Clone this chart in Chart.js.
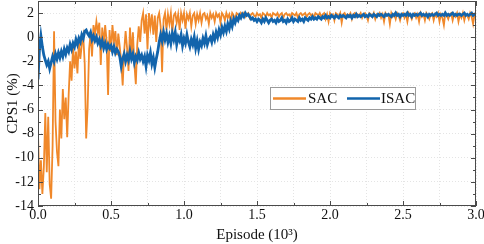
<!DOCTYPE html>
<html>
<head>
<meta charset="utf-8">
<script src="https://cdn.jsdelivr.net/npm/chart.js@4.4.0/dist/chart.umd.min.js"></script>
<style>
  html, body { margin: 0; padding: 0; background: #fff; }
  #wrap { width: 484px; height: 244px; position: relative; }
</style>
</head>
<body>
<div id="wrap"><canvas id="c" width="484" height="244"></canvas></div>
<script>
// Episode sampling (in 10^3 episodes)
const EPISODE_STEP = 0.01;

const seriesNames = ['SAC', 'ISAC'];

const sacValues = [
  -8.0, -12.6, -10.2, -13.0, -10.8, -6.3, -11.2, -6.6, -12.2, -13.4,
  -9.0, 0.5, -7.0, -9.5, -10.7, -6.0, -8.4, -4.3, -6.8, -5.0,
  -8.3, -4.8, -2.0, -3.6, -0.8, -2.6, -1.2, -3.0, -0.4, -1.8,
  -0.6, 0.1, -2.2, -8.4, -5.8, -1.0, 0.3, -1.6, 1.0, 0.2,
  1.3, 0.4, 1.2, -2.3, 0.8, -0.6, 1.0, -0.3, -4.8, 0.6,
  -1.2, 1.0, -0.4, 0.5, -1.5, 0.3, -0.8, -2.0, -4.0, -1.2,
  0.5, -0.9, -2.8, 0.8, -1.5, 0.4, -2.2, -3.9, -0.6, 0.9,
  -0.4, 1.4, 2.0, 0.3, 1.9, -1.0, 2.0, 0.8, 1.9, 0.2,
  1.8, -0.4, 1.6, 2.0, 0.9, -2.9, 1.5, 2.0, 0.6, 1.9,
  1.1, 2.0, 0.4, 1.8, 2.0, 1.2, 1.9, 0.6, 2.0, 1.4,
  2.0, 0.7, 1.9, 1.5, 2.0, 0.9, 1.8, 2.0, 1.1, 1.9,
  1.4, 2.0, 1.2, 1.9, 2.0, 1.5, 1.8, 1.1, 2.0, 1.6,
  1.9, 1.3, 2.0, 1.7, 1.9, 1.2, 2.0, 1.8, 1.4, 2.0,
  1.6, 1.9, 1.3, 2.0, 1.8, 1.5, 2.0, 1.9, 1.6, 2.0,
  1.8, 2.0, 1.7, 1.9, 2.0, 1.6, 1.9, 2.0, 1.8, 1.7,
  2.0, 1.8, 1.9, 1.6, 2.0, 1.9, 1.7, 2.0, 1.8, 1.9,
  1.6, 2.0, 1.9, 1.8, 2.0, 1.7, 1.9, 2.0, 1.6, 1.9,
  2.0, 1.8, 1.9, 1.7, 2.0, 1.9, 1.8, 2.0, 1.6, 1.9,
  2.0, 1.8, 1.9, 2.0, 1.7, 1.9, 2.0, 1.8, 1.9, 1.6,
  2.0, 1.9, 1.8, 2.0, 1.7, 1.9, 2.0, 1.5, 1.9, 1.3,
  2.0, 1.8, 1.9, 1.4, 2.0, 1.9, 1.7, 2.0, 1.2, 1.9,
  2.0, 1.7, 1.9, 1.8, 2.0, 1.5, 1.9, 2.0, 1.7, 1.9,
  1.8, 2.0, 1.6, 1.9, 2.0, 1.8, 1.4, 2.0, 1.9, 1.7,
  2.0, 1.5, 1.9, 1.8, 2.0, 1.6, 1.9, 1.3, 2.0, 1.8,
  1.9, 1.1, 2.0, 1.7, 1.9, 1.5, 2.0, 1.8, 1.4, 1.9,
  2.0, 1.6, 1.9, 1.3, 2.0, 1.8, 1.5, 1.9, 2.0, 1.6,
  1.9, 1.3, 2.0, 1.7, 1.9, 1.4, 2.0, 1.8, 1.5, 1.9,
  2.0, 1.4, 1.9, 1.7, 2.0, 1.3, 1.9, 1.6, 1.0, 2.0,
  1.8, 1.5, 1.9, 2.0, 1.4, 1.9, 1.7, 2.0, 1.3, 1.9,
  1.6, 2.0, 1.4, 1.9, 1.8, 1.5, 2.0, 1.7, 1.1, 1.9,
  1.8
];

const isacValues = [
  -3.5, -1.0, 0.1, -0.8, -1.5, -1.9, -2.3, -2.0, -2.6, -2.1,
  -1.6, -2.0, -1.4, -1.8, -1.3, -1.7, -1.2, -1.6, -1.0, -1.4,
  -0.9, -1.2, -0.6, -1.0, -0.5, -0.8, -0.2, -0.6, -0.1, -0.4,
  0.2, -0.1, 0.5, 0.6, 0.3, 0.1, 0.4, -0.2, 0.1, -0.3,
  0.0, -0.5, -0.2, -0.7, -0.3, -0.9, -0.5, -1.0, -0.6, -0.9,
  -0.7, -1.2, -0.8, -1.3, -1.0, -1.2, -1.6, -2.4, -1.8, -1.4,
  -2.0, -1.5, -1.9, -1.2, -1.8, -1.4, -2.1, -1.6, -1.9, -1.3,
  -1.8, -1.5, -2.0, -1.6, -2.4, -1.5, -1.9, -1.3, -2.2, -1.7,
  -2.5, -1.8, -1.2, -0.4, 0.2, -0.3, 0.4, -0.2, 0.3, -0.4,
  0.1, -0.5, 0.3, -0.2, 0.4, -0.6, 0.0, -0.3, 0.2, -0.7,
  -0.1, -0.5, 0.2, -0.4, -0.8, -0.2, -0.6, 0.0, -0.9, -0.3,
  -1.0, -0.4, -0.7, -0.1, -0.5, 0.1, -0.6, -0.2, 0.0, -0.4,
  0.2, -0.2, 0.4, 0.0, 0.6, 0.2, 0.8, 0.4, 0.9, 0.5,
  1.1, 0.7, 1.3, 0.9, 1.5, 1.2, 1.6, 1.4, 1.8, 1.6,
  1.9, 1.7, 2.0, 1.8, 1.9, 1.7, 1.5, 1.6, 1.4, 1.5,
  1.3, 1.5, 1.4, 1.2, 1.5, 1.3, 1.6, 1.4, 1.2, 1.4,
  1.5, 1.3, 1.4, 1.2, 1.5, 1.3, 1.4, 1.6, 1.3, 1.4,
  1.2, 1.5, 1.3, 1.4, 1.6, 1.3, 1.5, 1.4, 1.3, 1.6,
  1.4, 1.5, 1.3, 1.6, 1.5, 1.4, 1.6, 1.5, 1.7, 1.5,
  1.6, 1.5, 1.7, 1.6, 1.5, 1.7, 1.6, 1.8, 1.6, 1.7,
  1.6, 1.8, 1.7, 1.6, 1.8, 1.7, 1.6, 1.8, 1.7, 1.8,
  1.7, 1.6, 1.8, 1.7, 1.8, 1.6, 1.8, 1.7, 1.9, 1.7,
  1.8, 1.7, 1.8, 1.9, 1.7, 1.8, 1.7, 1.9, 1.8, 1.7,
  1.9, 1.8, 1.7, 1.9, 1.8, 1.9, 1.8, 1.7, 1.9, 1.8,
  1.9, 1.8, 1.7, 1.9, 1.8, 2.0, 1.8, 1.9, 1.7, 1.9,
  1.8, 1.9, 1.8, 2.0, 1.8, 1.9, 1.7, 1.9, 1.8, 1.9,
  1.8, 1.9, 2.0, 1.8, 1.9, 1.8, 1.9, 1.7, 1.9, 1.8,
  1.9, 1.8, 1.9, 2.0, 1.8, 1.9, 1.8, 1.9, 1.8, 2.0,
  1.8, 1.9, 1.8, 1.9, 2.0, 1.8, 1.9, 1.8, 1.9, 1.9,
  1.8, 1.9, 2.0, 1.8, 1.9, 1.8, 1.9, 2.0, 1.8, 1.9,
  1.9
];

const xTickLabels = ['0.0', '0.5', '1.0', '1.5', '2.0', '2.5', '3.0'];
const yTickLabels = ['-14', '-12', '-10', '-8', '-6', '-4', '-2', '0', '2'];

const toPoints = arr => arr.map((v, i) => ({ x: +(i * EPISODE_STEP).toFixed(4), y: v }));

const ORANGE = '#F0882A';
const BLUE = '#1264AC';
const FONT = '"Liberation Serif", "Times New Roman", serif';
const AXIS = '#4a4a4a';

const framePlugin = {
  id: 'frame',
  afterDraw(chart) {
    const { ctx, chartArea: a, scales: { x, y } } = chart;
    ctx.save();
    ctx.strokeStyle = AXIS;
    ctx.lineWidth = 1;
    ctx.strokeRect(Math.round(a.left) + 0.5, Math.round(a.top) + 0.5,
                   Math.round(a.right - a.left) - 1, Math.round(a.bottom - a.top) - 1);
    ctx.beginPath();
    for (let k = 0; k <= 12; k++) {
      const v = k * 0.25;
      const px = Math.round(x.getPixelForValue(v)) + 0.5;
      const len = (k % 2 === 0) ? 5 : 3;
      ctx.moveTo(px, a.bottom); ctx.lineTo(px, a.bottom - len);
      ctx.moveTo(px, a.top); ctx.lineTo(px, a.top + len);
    }
    for (let v = -14; v <= 3; v++) {
      const py = Math.round(y.getPixelForValue(v)) + 0.5;
      const len = (v % 2 === 0) ? 5 : 3;
      ctx.moveTo(a.left, py); ctx.lineTo(a.left + len, py);
      ctx.moveTo(a.right, py); ctx.lineTo(a.right - len, py);
    }
    ctx.stroke();

    // Legend box inside plot
    const bx = 270, by = 87, bw = 145, bh = 22;
    ctx.fillStyle = '#fff';
    ctx.fillRect(bx, by, bw, bh);
    ctx.strokeStyle = '#9a9a9a';
    ctx.strokeRect(bx + 0.5, by + 0.5, bw, bh);
    const cy = by + bh / 2 + 0.5;
    ctx.lineWidth = 2.5;
    ctx.strokeStyle = ORANGE;
    ctx.beginPath(); ctx.moveTo(273, cy); ctx.lineTo(306, cy); ctx.stroke();
    ctx.strokeStyle = BLUE;
    ctx.beginPath(); ctx.moveTo(347, cy); ctx.lineTo(380, cy); ctx.stroke();
    ctx.fillStyle = '#111';
    ctx.font = '15px ' + FONT;
    ctx.textBaseline = 'middle';
    ctx.textAlign = 'left';
    ctx.fillText(seriesNames[0], 308, cy + 1);
    ctx.fillText(seriesNames[1], 381, cy + 1);
    ctx.restore();
  }
};

new Chart(document.getElementById('c'), {
  type: 'line',
  data: {
    datasets: [
      { label: seriesNames[0], data: toPoints(sacValues), borderColor: ORANGE, borderWidth: 1.8,
        pointRadius: 0, tension: 0, order: 2 },
      { label: seriesNames[1], data: toPoints(isacValues), borderColor: BLUE, borderWidth: 2.8,
        pointRadius: 0, tension: 0, order: 1 }
    ]
  },
  options: {
    responsive: false,
    animation: false,
    layout: { padding: { top: 1, right: 8, left: 0, bottom: 0 } },
    plugins: { legend: { display: false }, tooltip: { enabled: false } },
    scales: {
      x: {
        type: 'linear', min: 0, max: 3,
        afterFit(s) { s.height = 38; s.paddingLeft = 0; s.paddingRight = 0; },
        ticks: {
          stepSize: 0.25, autoSkip: false, maxRotation: 0, padding: 1,
          color: '#111', font: { family: FONT, size: 14 },
          callback(v) {
            const k = Math.round(v * 4);
            return (k % 2 === 0) ? xTickLabels[k / 2] : '';
          }
        },
        grid: { color: '#e4e4e4', lineWidth: 1, drawTicks: false },
        border: { display: false, dash: [1, 2] },
        title: { display: true, text: 'Episode (10³)', color: '#111',
                 font: { family: FONT, size: 15 }, padding: { top: 0, bottom: 0 } }
      },
      y: {
        type: 'linear', min: -14, max: 3,
        afterFit(s) { s.width = 38; s.paddingTop = 0; s.paddingBottom = 0; },
        ticks: {
          stepSize: 1, autoSkip: false, padding: 4,
          color: '#111', font: { family: FONT, size: 14 },
          callback(v) {
            return (Math.round(v) % 2 === 0 && v <= 2) ? yTickLabels[(Math.round(v) + 14) / 2] : '';
          }
        },
        grid: {
          drawTicks: false,
          color(ctx) { const v = ctx.tick && ctx.tick.value; return (Math.round(v) % 2 === 0 && v < 3) ? '#e4e4e4' : 'rgba(0,0,0,0)'; }
        },
        border: { display: false, dash: [1, 2] },
        title: { display: true, text: 'CPS1 (%)', color: '#111',
                 font: { family: FONT, size: 15 }, padding: { top: 4, bottom: 0 } }
      }
    }
  },
  plugins: [framePlugin]
});
</script>
</body>
</html>
